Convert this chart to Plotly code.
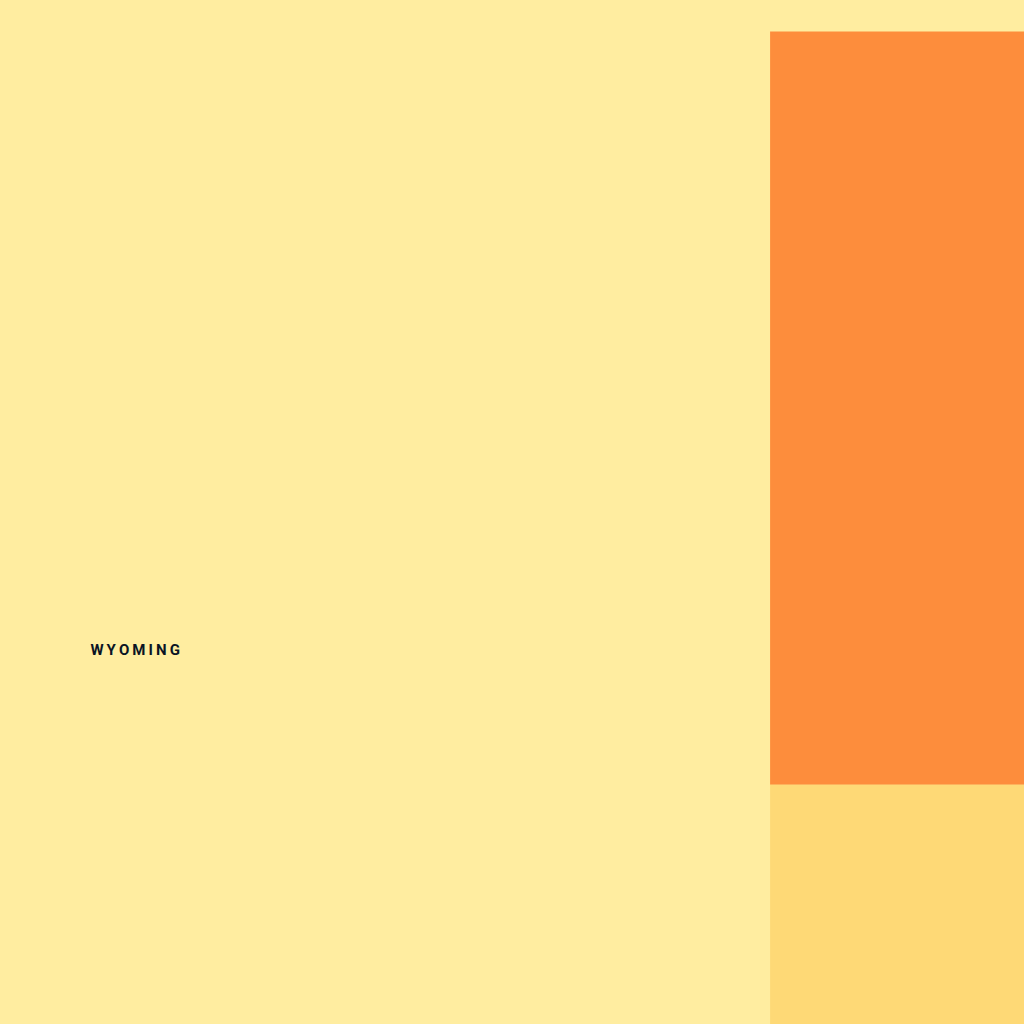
import math
import plotly.graph_objects as go

# ---- data ----
states = ["Montana", "Wyoming", "North Dakota", "South Dakota", "Nebraska"]
category = [0, 0, 0, 2, 1]          # colour class of each state
lon_west = [-116.05, -111.05, -104.05, -104.05, -104.05]
lon_east = [-104.05, -104.05, -96.55, -96.44, -95.31]
lat_south = [45.00, 41.00, 45.945, 43.00, 40.00]
lat_north = [49.00, 45.00, 49.00, 45.945, 43.00]
class_colors = ["#ffeda0", "#fed976", "#fd8d3c"]

label_text = ["WYOMING"]
label_lon = [-107.53]
label_lat = [43.535]

# ---- view (web-mercator window of the map) ----
W = H = 1024
anchor_lon, anchor_x = -104.05, 770          # WY / SD border
anchor_lat1, anchor_y1 = 45.945, 32          # SD / ND border
anchor_lat2, anchor_y2 = 43.0, 785           # SD / NE border


def merc(lat):
    return math.log(math.tan(math.pi / 4 + math.radians(lat) / 2))


def inv_merc(m):
    return math.degrees(2 * math.atan(math.exp(m)) - math.pi / 2)


scale = (anchor_y2 - anchor_y1) / (merc(anchor_lat1) - merc(anchor_lat2))  # px per merc unit
px_per_deg = scale * math.pi / 180
view_lon0 = anchor_lon - anchor_x / px_per_deg
view_lon1 = view_lon0 + W / px_per_deg
m_top = merc(anchor_lat1) + anchor_y1 / scale
m_bot = m_top - H / scale
view_lat0, view_lat1 = inv_merc(m_bot), inv_merc(m_top)
center_lat = inv_merc((m_top + m_bot) / 2)
center_lon = (view_lon0 + view_lon1) / 2


def edge(a, b, steps=200):
    """points along a straight lon/lat edge (follows parallels/meridians)"""
    return [[a[0] + (b[0] - a[0]) * i / steps, a[1] + (b[1] - a[1]) * i / steps]
            for i in range(steps)]


# ---- build geojson (clockwise rings for d3) ----
features = []
for name, w, e, s, n in zip(states, lon_west, lon_east, lat_south, lat_north):
    corners = [[w, s], [w, n], [e, n], [e, s]]
    ring = []
    for i in range(4):
        ring += edge(corners[i], corners[(i + 1) % 4])
    ring.append(corners[0])
    features.append({"type": "Feature", "id": name, "properties": {"name": name},
                     "geometry": {"type": "Polygon", "coordinates": [ring]}})
geojson = {"type": "FeatureCollection", "features": features}

colorscale = [[0.0, class_colors[0]], [0.5, class_colors[1]], [1.0, class_colors[2]]]

fig = go.Figure()
fig.add_trace(go.Scattergeo(
    lon=label_lon, lat=label_lat, text=["\u2009".join(t) for t in label_text],
    mode="text",
    textfont=dict(family="Roboto", size=15, color="#0a1424", weight="bold"),
    hoverinfo="skip", showlegend=False,
))
fig.add_trace(go.Choropleth(
    geojson=geojson, locations=states, z=category, featureidkey="id",
    colorscale=colorscale, zmin=0, zmax=2, showscale=False,
    marker_line_width=0,
))

fig.update_geos(
    projection_type="mercator",
    projection_rotation_lon=center_lon,
    center=dict(lon=center_lon, lat=center_lat),
    lonaxis_range=[view_lon0, view_lon1],
    lataxis_range=[view_lat0, view_lat1],
    showframe=False, showland=False, showcoastlines=False, showcountries=False,
    showlakes=False, showocean=False, showrivers=False, showsubunits=False,
    bgcolor="#ffeda0",
    domain=dict(x=[0, 1], y=[0, 1]),
)
fig.update_layout(width=W, height=H, margin=dict(l=0, r=0, t=0, b=0),
                  paper_bgcolor="#ffeda0")
fig.write_html("out.html")
